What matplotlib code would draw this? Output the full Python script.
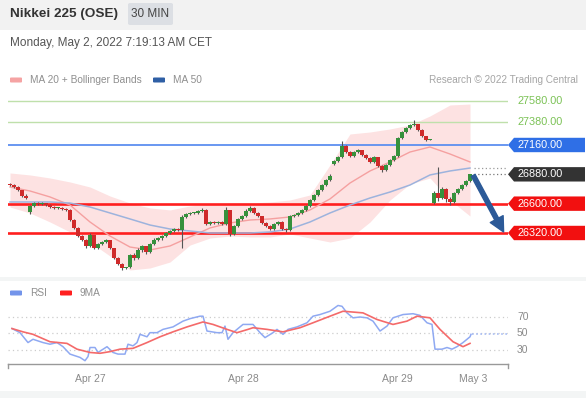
import numpy as np
import matplotlib.pyplot as plt
from matplotlib.patches import Rectangle, Polygon, FancyBboxPatch
from matplotlib import transforms

plt.rcParams['font.family'] = ['Liberation Sans', 'DejaVu Sans']

W, H = 586, 398

# 30 min candles, Apr 26 night -> May 2 morning
opens = [26790, 26775, 26760, 26730, 26675, 26520, 26575, 26605, 26595, 26605,
         26590, 26570, 26560, 26560, 26550, 26540, 26445, 26370, 26290, 26255,
         26195, 26300, 26175, 26215, 26235, 26250, 26175, 26080, 26025, 25985,
         26000, 26110, 26080, 26160, 26195, 26140, 26215, 26255, 26270, 26290,
         26320, 26340, 26360, 26350, 26470, 26500, 26510, 26515, 26530, 26540,
         26405, 26425, 26415, 26425, 26405, 26535, 26310, 26385, 26455, 26480,
         26530, 26560, 26515, 26480, 26420, 26385, 26360, 26405, 26425, 26360,
         26345, 26480, 26490, 26515, 26540, 26580, 26635, 26685, 26730, 26775,
         26825, 26980, 27010, 27045, 27150, 27095, 27055, 27095, 27110, 27065,
         27035, 27000, 27045, 26960, 26920, 26970, 27015, 27055, 27225, 27285,
         27320, 27350, 27360, 27305, 27245, 27210, 26610, 26700, 26650, 26740,
         26640, 26620, 26700, 26740, 26780, 26820]
closes = [26775, 26760, 26730, 26675, 26655, 26575, 26605, 26595, 26605, 26590,
          26570, 26560, 26560, 26550, 26540, 26445, 26370, 26290, 26255, 26195,
          26300, 26175, 26215, 26235, 26250, 26175, 26080, 26025, 25985, 25995,
          26110, 26080, 26160, 26195, 26140, 26215, 26255, 26270, 26290, 26320,
          26340, 26360, 26350, 26470, 26500, 26510, 26515, 26530, 26540, 26405,
          26425, 26415, 26425, 26405, 26535, 26310, 26385, 26455, 26480, 26530,
          26560, 26515, 26480, 26420, 26385, 26360, 26405, 26425, 26360, 26345,
          26480, 26490, 26515, 26540, 26580, 26635, 26685, 26730, 26775, 26825,
          26865, 27010, 27045, 27150, 27095, 27055, 27095, 27110, 27065, 27035,
          27000, 27045, 26960, 26920, 26970, 27015, 27055, 27225, 27285, 27320,
          27350, 27360, 27305, 27245, 27210, 27215, 26700, 26650, 26740, 26640,
          26620, 26700, 26740, 26780, 26820, 26880]
highs = [26800, 26785, 26765, 26735, 26690, 26585, 26620, 26615, 26615, 26610,
         26595, 26575, 26570, 26565, 26555, 26545, 26450, 26380, 26300, 26260,
         26320, 26305, 26225, 26245, 26260, 26255, 26180, 26090, 26030, 26000,
         26120, 26130, 26175, 26210, 26200, 26225, 26270, 26285, 26300, 26330,
         26350, 26370, 26365, 26495, 26510, 26520, 26525, 26540, 26560, 26545,
         26435, 26430, 26435, 26430, 26570, 26540, 26395, 26465, 26495, 26545,
         26575, 26565, 26520, 26485, 26425, 26395, 26415, 26435, 26430, 26370,
         26490, 26500, 26525, 26550, 26590, 26645, 26695, 26740, 26785, 26840,
         26880, 27020, 27055, 27200, 27160, 27105, 27105, 27125, 27115, 27075,
         27045, 27055, 27050, 26970, 26980, 27025, 27065, 27235, 27295, 27330,
         27365, 27395, 27365, 27310, 27250, 27220, 26720, 26950, 26760, 26750,
         26660, 26710, 26750, 26790, 26830, 26885]
lows = [26765, 26745, 26720, 26665, 26640, 26505, 26565, 26585, 26585, 26580,
        26560, 26550, 26550, 26540, 26530, 26435, 26360, 26280, 26240, 26180,
        26185, 26165, 26165, 26205, 26225, 26165, 26070, 26015, 25970, 25980,
        25990, 26060, 26070, 26140, 26120, 26130, 26205, 26240, 26255, 26280,
        26310, 26330, 26340, 26180, 26460, 26490, 26500, 26505, 26520, 26395,
        26395, 26405, 26405, 26395, 26400, 26290, 26300, 26375, 26445, 26470,
        26520, 26505, 26470, 26410, 26375, 26345, 26350, 26395, 26345, 26330,
        26335, 26470, 26480, 26505, 26530, 26570, 26625, 26675, 26720, 26765,
        26815, 26970, 27000, 27035, 27085, 27045, 27045, 27085, 27055, 27025,
        26990, 26990, 26950, 26905, 26910, 26960, 27005, 27045, 27215, 27275,
        27310, 27340, 27295, 27235, 27195, 27205, 26600, 26630, 26640, 26620,
        26590, 26610, 26690, 26730, 26770, 26810]

# indicators sampled every 5 candles
band_idx = list(range(0, 116, 5))
ma20 = [26759, 26721, 26664, 26587, 26425, 26291, 26186, 26158, 26196, 26282,
        26368, 26416, 26444, 26454, 26473, 26540, 26645, 26797, 26912, 26998,
        27093, 27141, 27074, 26998]
ma50 = [26616, 26616, 26616, 26606, 26568, 26511, 26454, 26396, 26358, 26339,
        26320, 26320, 26320, 26330, 26358, 26425, 26511, 26587, 26654, 26711,
        26778, 26874, 26912, 26940]
bb_upper = [26893, 26874, 26845, 26807, 26759, 26673, 26606, 26559, 26540, 26578,
            26597, 26606, 26606, 26616, 26635, 26683, 26969, 27265, 27284, 27313,
            27351, 27437, 27542, 27551]
bb_lower = [26568, 26511, 26425, 26330, 26234, 26100, 25967, 25986, 26043, 26205,
            26272, 26291, 26282, 26282, 26311, 26272, 26234, 26272, 26425, 26635,
            26788, 26845, 26635, 26482]

green_levels = [27580, 27380]
resist_level = 27160
last_price = 26880
ma50_last = 26940
support_levels = [26600, 26320]

rsi_x = [0.5, 2.5, 4.5, 5.75, 8.25, 10, 11.75, 13.25, 15, 17.5, 18.75, 19.5, 20,
         21.25, 22, 24.25, 25.75, 27, 28.75, 29.5, 30.75, 31.75, 32.5, 34.25, 35,
         36.75, 38.25, 40.75, 43.25, 45, 47.5, 48.25, 49.25, 51.75, 53, 53.75,
         54.5, 55.75, 58.25, 59.5, 60.75, 62.5, 63.75, 65.75, 66.75, 68.25, 69.5,
         71.75, 74.25, 75.75, 77.5, 80, 82, 83, 84.25, 85.75, 87.5, 89.25, 90.75,
         92.5, 94.25, 95.75, 98.25, 100.75, 102.5, 104.25, 105.5, 106.25, 108,
         109.25, 110.5, 111.75, 113.25, 115, 115.25]
rsi_y = [56, 51, 39, 43, 39, 37, 39, 34, 25, 21, 17, 22, 33,
         33, 27, 34, 27, 25, 25, 37, 35, 39, 49, 46, 51,
         51, 55, 58, 65, 68, 71, 71, 53, 51, 51, 59,
         43, 51, 61, 61, 61, 51, 45, 51, 55, 49, 55,
         58, 63, 71, 73, 77, 84, 83, 75, 69, 70, 69, 65,
         53, 59, 69, 73, 74, 72, 63, 61, 31, 31,
         33, 31, 34, 39, 46, 49]
ma9_x = [0.5, 3.25, 5.75, 10, 14.25, 16.75, 20, 22.5, 25, 27.5, 30.75, 34.25,
         37.5, 40.75, 44.25, 48.25, 50.75, 54.25, 56.75, 59.5, 60.75, 64.25,
         68.25, 72.5, 75.75, 80, 83.25, 88.25, 91.75, 95.75, 99.25, 101.75, 105,
         107.5, 110.75, 113.25, 115]
ma9_y = [56, 52, 49, 40, 38, 31, 27, 26, 28, 31, 32, 39,
         46, 52, 58, 64, 61, 55, 51, 55, 57, 55,
         52, 57, 63, 71, 77, 75, 67, 61, 65, 71, 69,
         55, 40, 34, 38]
rsi_last = 49

day_ticks = [20, 58.25, 96.75, 115.75]
day_labels = ["Apr 27", "Apr 28", "Apr 29", "May 3"]

GREEN_C = "#36913c"
RED_C = "#cf2a2a"
GRAY_T = "#8f8f8f"


def fx(x):
    return x / W


def fy(y):
    return 1 - y / H


fig = plt.figure(figsize=(W / 100, H / 100), dpi=100)
fig.patch.set_facecolor("white")

# header
fig.add_artist(Rectangle((0, fy(30)), 1, 30 / H, transform=fig.transFigure,
                         facecolor="#f2f2f2", edgecolor="none", zorder=0))
fig.add_artist(FancyBboxPatch((fx(128), fy(25)), 45 / W, 22 / H, transform=fig.transFigure,
                              boxstyle="round,pad=0,rounding_size=0.004",
                              facecolor="#dcdfe4", edgecolor="none", zorder=1))
fig.text(fx(10), fy(14), "Nikkei 225 (OSE)", fontsize=9.7, fontweight="bold",
         color="#333333", va="center", ha="left")
fig.text(fx(150.5), fy(14), "30 MIN", fontsize=8.5, color="#444444", va="center", ha="center")
fig.text(fx(10), fy(43), "Monday, May 2, 2022 7:19:13 AM CET", fontsize=8.5,
         color="#555555", va="center", ha="left")

# separators
fig.add_artist(Rectangle((0, fy(281)), 1, 4 / H, transform=fig.transFigure,
                         facecolor="#f3f5f5", edgecolor="none"))
fig.add_artist(Rectangle((0, 0), 1, 7 / H, transform=fig.transFigure,
                         facecolor="#f3f5f5", edgecolor="none"))

# legends
def legend_item(x, y, color, label):
    fig.add_artist(FancyBboxPatch((fx(x), fy(y + 2.5)), 12 / W, 5 / H, transform=fig.transFigure,
                                  boxstyle="round,pad=0,rounding_size=0.002",
                                  facecolor=color, edgecolor="none"))
    fig.text(fx(x + 20), fy(y), label, fontsize=7.3, color=GRAY_T, va="center", ha="left")


legend_item(10, 80, "#f5a3a3", "MA 20 + Bollinger Bands")
legend_item(153, 80, "#2f5fa5", "MA 50")
fig.text(fx(578), fy(80), "Research \u00a9 2022 Trading Central", fontsize=7.2,
         color="#a5a5a5", va="center", ha="right")
legend_item(10, 293, "#7394ea", "RSI")
legend_item(60, 293, "#ff2020", "9MA")

# ---- main price chart ----
ax = fig.add_axes([fx(8), fy(275), 500 / W, 187 / H])
ax.set_xlim(-0.5, 124.5)
ax.set_ylim(25919, 27704)
ax.axis("off")

ax.fill_between(band_idx, bb_lower, bb_upper, color="#fde2e2", lw=0, zorder=1)

for lv in green_levels:
    ax.axhline(lv, color="#bfe0ab", lw=1, zorder=2)
ax.axhline(resist_level, color="#5d8ff0", lw=1.3, zorder=2)
for lv in support_levels:
    ax.axhline(lv, color="#ff1f1f", lw=1.9, zorder=2)

ax.plot(band_idx, ma20, color="#f5a0a0", lw=1, zorder=3)
ax.plot(band_idx, ma50, color="#9db3dd", lw=1.1, zorder=3)

idx = np.arange(len(closes))
o = np.array(opens)
c = np.array(closes)
up = c >= o
body_lo = np.minimum(o, c)
body_h = np.maximum(np.abs(c - o), 8)
cols = np.where(up, GREEN_C, RED_C)
ax.vlines(idx, lows, highs, color="#555555", lw=0.8, zorder=4)
ax.bar(idx, body_h, bottom=body_lo, width=0.82, color=cols, lw=0, zorder=5)

# dotted continuation lines
ax.plot([116, 124.5], [ma50_last, ma50_last], color="#9a9a9a", lw=0.9, ls=(0, (1, 2)), zorder=3)
ax.plot([116, 124.5], [last_price, last_price], color="#777777", lw=0.9, ls=(0, (1, 2)), zorder=3)

# forecast arrow
ax.annotate("", xy=(123.4, support_levels[1] + 10), xytext=(115.8, last_price - 10),
            arrowprops=dict(arrowstyle="simple,head_width=0.75,head_length=0.75,tail_width=0.22",
                            mutation_scale=14, color="#2c5a98", shrinkA=0, shrinkB=0),
            zorder=6)

# price labels
trans = transforms.blended_transform_factory(fig.transFigure, ax.transData)
half = 7.2 * (27704 - 25919) / 187


def price_box(level, face):
    pts = [(fx(508), level), (fx(514), level + half), (fx(585), level + half),
           (fx(585), level - half), (fx(514), level - half)]
    ax.add_patch(Polygon(pts, closed=True, transform=trans, facecolor=face,
                         edgecolor="none", clip_on=False, zorder=6))
    ax.text(fx(518), level, f"{level:.2f}", transform=trans, fontsize=7.8,
            color="white", va="center", ha="left", clip_on=False, zorder=7)


for lv in green_levels:
    ax.text(fx(517), lv, f"{lv:.2f}", transform=trans, fontsize=7.8,
            color="#7bc255", va="center", ha="left", clip_on=False)
price_box(resist_level, "#2f6fe6")
price_box(last_price, "#333333")
for lv in support_levels:
    price_box(lv, "#f21010")

# ---- RSI panel ----
ax2 = fig.add_axes([fx(8), fy(364), 500 / W, 69 / H])
ax2.set_xlim(-0.5, 124.5)
ax2.set_ylim(13, 96.7)
for s in ["top", "right", "left"]:
    ax2.spines[s].set_visible(False)
ax2.spines["bottom"].set_color("#999999")
ax2.spines["bottom"].set_linewidth(1)
ax2.set_yticks([])
ax2.set_xticks(day_ticks)
ax2.set_xticklabels(day_labels)
ax2.tick_params(axis="x", length=0, pad=7, labelsize=7.5, labelcolor="#8a8a8a")
for xe in [0, 1]:
    ax2.plot([xe, xe], [0, -0.06], transform=ax2.transAxes, color="#999999",
             lw=1, clip_on=False)

for lv in [30, 50, 70]:
    ax2.axhline(lv, color="#cccccc", lw=0.9, ls=(0, (1, 2.5)), zorder=1)
    ax2.text(1.018, lv, str(lv), transform=ax2.get_yaxis_transform(), fontsize=7.5,
             color="#8a8a8a", va="center", ha="left", clip_on=False)

ax2.plot(rsi_x, rsi_y, color="#8fa9f2", lw=1.1, zorder=3)
ax2.plot(ma9_x, ma9_y, color="#f46a6a", lw=1.2, zorder=3)
ax2.plot([115.5, 124.5], [rsi_last, rsi_last], color="#a9bdf3", lw=1.2,
         ls=(0, (1, 1.5)), zorder=2)

fig.savefig("out.png", dpi=100)
